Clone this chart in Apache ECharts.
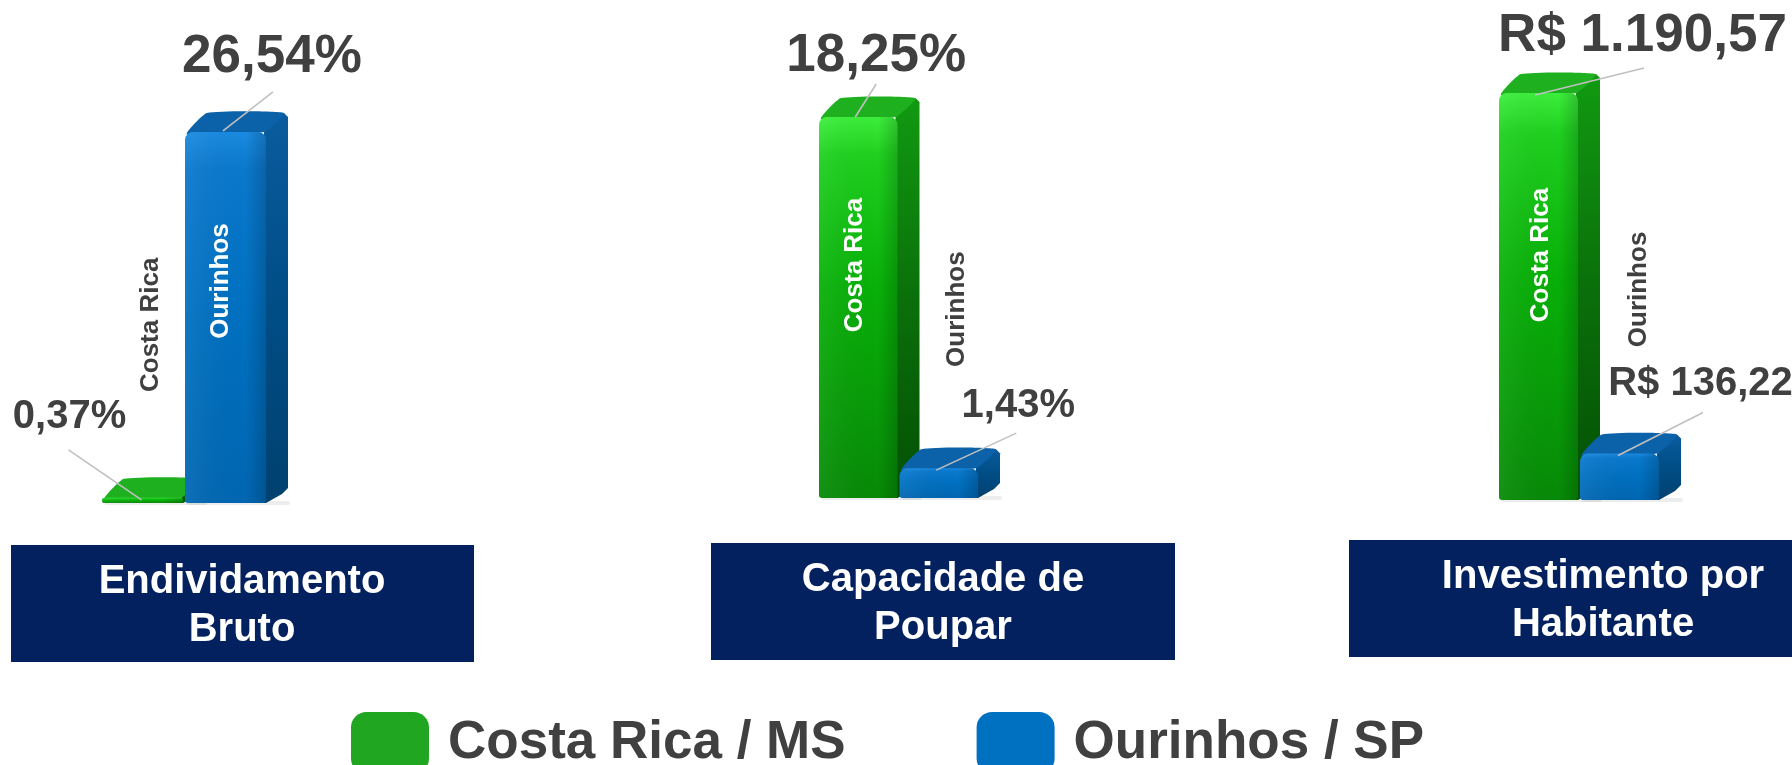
<!DOCTYPE html>
<html><head><meta charset="utf-8">
<script src="https://cdn.jsdelivr.net/npm/echarts@6/dist/echarts.min.js"></script>
<style>html,body{margin:0;padding:0;background:#fff}#c{width:1792px;height:765px}</style>
</head><body><div id="c"></div>
<script>
// ---------- DATA ----------
const panelTitles = ['Endividamento\nBruto', 'Capacidade de\nPoupar', 'Investimento por\nHabitante'];
const panelUnits = ['%', '%', 'R$'];
const cityShort = ['Costa Rica', 'Ourinhos'];
const seriesNames = ['Costa Rica / MS', 'Ourinhos / SP'];
const costaRicaValues = [0.37, 18.25, 1190.57];
const ourinhosValues = [26.54, 1.43, 136.22];
const axisMax = [30, 20, 1200];

// ---------- LAYOUT ----------
const FONT = "'Liberation Sans', Arial, sans-serif";
const gridBoxes = [
  {left: 101, top: 83.6, width: 166, height: 419.4},
  {left: 818, top: 80.5, width: 161, height: 417.5},
  {left: 1498, top: 89.8, width: 162, height: 410.2}
];
// offsets relative to the top-centre of each bar's front face
const labelLayout = [
  [ {v:[-73,-81], vs:40, l:[-74,-48], le:[-1,2], n:[8,-173], nc:'#404040'},
    {v:[46.5,-75], vs:53, l:[47.5,-40], le:[-2.5,-1], n:[-4.5,149], nc:'#ffffff'} ],
  [ {v:[18,-61], vs:53, l:[18,-33], le:[-3,0], n:[-3,148], nc:'#ffffff'},
    {v:[79.5,-62], vs:40, l:[77.5,-35], le:[-2.5,2], n:[18.5,-159], nc:'#404040'} ],
  [ {v:[104,-57], vs:53, l:[105.5,-25], le:[-3.5,2], n:[2.5,162], nc:'#ffffff'},
    {v:[81,-69], vs:40, l:[83.5,-41], le:[-1.5,2], n:[19.5,-164], nc:'#404040'} ]
];
const titleBoxes = [
  {x: 11, y: 545, w: 463, h: 117, cx: 242},
  {x: 711, y: 543, w: 464, h: 117, cx: 943},
  {x: 1349, y: 540, w: 508, h: 117, cx: 1603}
];
const palettes = [
  { legend: '#21a621',
    front: [['#3cee3c',0],['#1fd01f',0.1],['#08b008',0.45],['#078a07',1]],
    side: [['#119a11',0],['#0a700a',0.5],['#045004',1]],
    top: '#1fb01f' },
  { legend: '#0070c0',
    front: [['#1a8ae0',0],['#0a78cc',0.1],['#0070c0',0.5],['#0066b2',1]],
    side: [['#0a5c9e',0],['#004d86',0.5],['#00416f',1]],
    top: '#0c62a8' }
];

function fmt(v, unit) {
  const s = v.toFixed(2).split('.');
  const i = s[0].replace(/\B(?=(\d{3})+(?!\d))/g, '.');
  return unit === '%' ? i + ',' + s[1] + '%' : 'R$ ' + i + ',' + s[1];
}
function grad(stops, x2, y2) {
  return new echarts.graphic.LinearGradient(0, 0, x2, y2, stops.map(s => ({offset: s[1], color: s[0]})));
}

function makeRender(panel, city) {
  const pal = palettes[city];
  const lay = labelLayout[panel][city];
  return function (params, api) {
    const cat = api.value(0), v = api.value(1);
    const top = api.coord([cat, v]);
    const base = api.coord([cat, 0]);
    const w = api.size([1, 0])[0] - 2;
    const x0 = top[0] - w / 2, x1 = top[0] + w / 2;
    const yT = top[1], yB = base[1];
    const h = yB - yT;
    const dx = 22, dy = -19;
    const r = Math.min(8, h / 2);
    const cx = top[0], cy = yT;
    return {
      type: 'group',
      children: [
        {type: 'rect', shape: {x: x0 + 2, y: yB - 2, width: w + dx, height: 4, r: 2},
         style: {fill: 'rgba(0,0,0,0.07)'}},
        {type: 'polygon', shape: {points: [[x1 - 2, yB], [x1 - 2, yT], [x1 + dx - 4, yT + dy], [x1 + dx, yT + dy + 4], [x1 + dx, yB + dy + 4], [x1 + dx - 6, yB + dy + 10], [x1, yB]]},
         style: {fill: grad(pal.side, 0, 1)}},
        {type: 'polygon', shape: {points: [[x0 + 2, yT + 2], [x0 + dx, yT + dy], [x1 + dx - 4, yT + dy], [x1 - 2, yT]], smooth: 0.15},
         style: {fill: pal.top}},
        {type: 'rect', shape: {x: x0, y: yT, width: w, height: h, r: [r, r, Math.min(3, h / 2), Math.min(3, h / 2)]},
         style: {fill: grad(pal.front, 0, 1)}},
        {type: 'rect', shape: {x: x0, y: yT, width: w, height: h, r: [r, r, Math.min(3, h / 2), Math.min(3, h / 2)]},
         style: {fill: new echarts.graphic.LinearGradient(0, 0, 1, 0, [
           {offset: 0, color: 'rgba(255,255,255,0.06)'}, {offset: 0.75, color: 'rgba(0,0,0,0)'},
           {offset: 1, color: 'rgba(0,0,0,0.18)'}])}},
        {type: 'line', shape: {x1: cx + lay.l[0], y1: cy + lay.l[1], x2: cx + lay.le[0], y2: cy + lay.le[1]},
         style: {stroke: '#c0c0c0', lineWidth: 1.6}},
        {type: 'text', x: cx + lay.v[0], y: cy + lay.v[1],
         style: {text: fmt(v, panelUnits[panel]), fill: '#404040', font: 'bold ' + lay.vs + 'px ' + FONT,
                 align: 'center', verticalAlign: 'middle', textAlign: 'center', textVerticalAlign: 'middle'}},
        {type: 'text', x: cx + lay.n[0], y: cy + lay.n[1], rotation: Math.PI / 2,
         style: {text: cityShort[city], fill: lay.nc, font: 'bold 26px ' + FONT,
                 align: 'center', verticalAlign: 'middle', textAlign: 'center', textVerticalAlign: 'middle'}}
      ]
    };
  };
}

const grids = [], xAxes = [], yAxes = [], series = [];
for (let p = 0; p < 3; p++) {
  grids.push(Object.assign({containLabel: false}, gridBoxes[p]));
  xAxes.push({type: 'category', gridIndex: p, data: cityShort, show: false});
  yAxes.push({type: 'value', gridIndex: p, min: 0, max: axisMax[p], show: false, splitLine: {show: false}});
  [costaRicaValues, ourinhosValues].forEach((vals, c) => {
    series.push({
      type: 'custom', name: seriesNames[c], xAxisIndex: p, yAxisIndex: p, clip: false,
      itemStyle: {color: palettes[c].legend},
      renderItem: makeRender(p, c),
      data: [[c, vals[p]]],
      z: 2 + c
    });
  });
}

const chart = echarts.init(document.getElementById('c'), null, {renderer: 'canvas'});
chart.setOption({
  animation: false,
  backgroundColor: '#ffffff',
  grid: grids, xAxis: xAxes, yAxis: yAxes, series: series,
  legend: {
    data: seriesNames, left: 346, top: 707, icon: 'roundRect',
    itemWidth: 78, itemHeight: 62, itemGap: 131,
    textStyle: {fontSize: 53, fontWeight: 'bold', color: '#404040', fontFamily: FONT, padding: [0, 0, 0, 14]}
  },
  graphic: titleBoxes.map((b, i) => ({
    type: 'group', silent: true,
    children: [
      {type: 'rect', shape: {x: b.x, y: b.y, width: b.w, height: b.h}, style: {fill: '#03215e'}},
      {type: 'text', x: b.cx, y: b.y + b.h / 2 + 2,
       style: {text: panelTitles[i], fill: '#ffffff', font: 'bold 40px ' + FONT, lineHeight: 48,
               align: 'center', verticalAlign: 'middle', textAlign: 'center', textVerticalAlign: 'middle'}}
    ]
  }))
});
</script></body></html>
